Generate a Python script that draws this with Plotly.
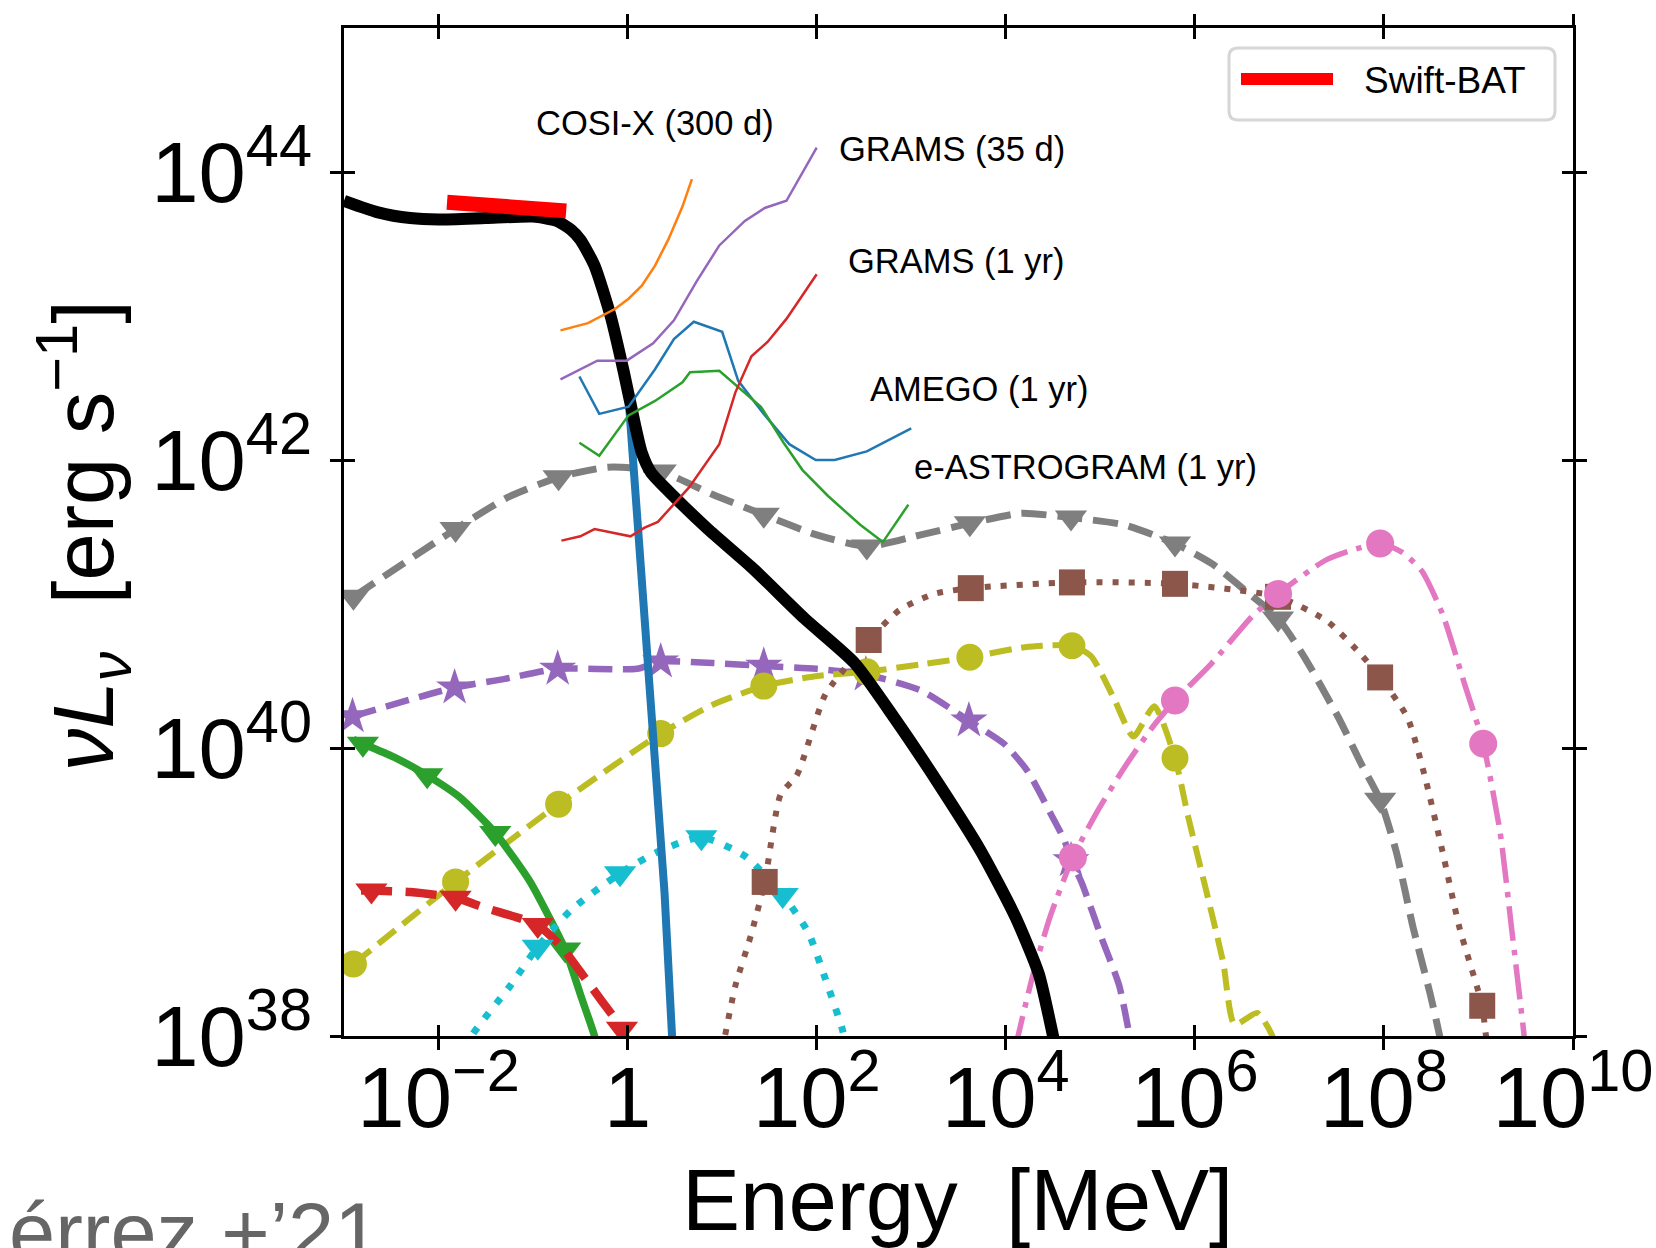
import numpy as np
import plotly.graph_objects as go

# ---------------------------------------------------------------------------
# Spectral energy distributions: log10(E / MeV) and log10(nu L_nu / erg s^-1)
# ---------------------------------------------------------------------------

# total emission (thick black)
total_logE = [-3.0, -2.64, -2.3, -2.0, -1.5, -1.0, -0.75, -0.6, -0.5, -0.35, -0.18,
              -0.04, 0.08, 0.15, 0.25, 0.5, 0.85, 1.32, 1.87, 2.4, 2.82, 3.31, 3.74,
              4.1, 4.35, 4.5, 4.6]
total_logL = [43.80, 43.72, 43.68, 43.67, 43.68, 43.69, 43.66, 43.6, 43.53, 43.35, 43.0,
              42.61, 42.24, 42.05, 41.91, 41.74, 41.52, 41.25, 40.9, 40.59, 40.21, 39.73,
              39.28, 38.83, 38.43, 38.0, 37.7]

# thermal cutoff component (thick blue)
thermal_logE = [0.0, 0.05, 0.17, 0.29, 0.39, 0.47, 0.52]
thermal_logL = [42.52, 42.08, 41.0, 40.0, 39.0, 38.0, 37.5]

# Swift-BAT band
bat_logE = [-1.91, -0.65]
bat_logL = [43.79, 43.73]

# instrument sensitivity curves
cosi_logE = [-0.71, -0.42, -0.13, 0.01, 0.15, 0.29, 0.43, 0.58, 0.68]
cosi_logL = [42.90, 42.95, 43.05, 43.12, 43.21, 43.35, 43.53, 43.76, 43.95]

grams35_logE = [-0.71, -0.32, -0.01, 0.27, 0.49, 0.73, 0.97, 1.24, 1.45, 1.68, 2.0]
grams35_logL = [42.56, 42.69, 42.69, 42.81, 42.97, 43.24, 43.49, 43.66, 43.75, 43.80, 44.17]

grams1y_logE = [-0.70, -0.5, -0.35, -0.27, 0.03, 0.18, 0.32, 0.65, 0.97, 1.14, 1.31,
                1.48, 1.68, 2.0]
grams1y_logL = [41.44, 41.47, 41.52, 41.51, 41.47, 41.53, 41.57, 41.81, 42.11, 42.47,
                42.72, 42.82, 42.98, 43.29]

amego_logE = [-0.51, -0.30, 0.01, 0.29, 0.49, 0.70, 1.0, 1.17, 1.44, 1.71, 1.99, 2.19,
              2.53, 3.0]
amego_logL = [42.58, 42.32, 42.37, 42.63, 42.84, 42.96, 42.89, 42.55, 42.32, 42.11,
              42.0, 42.0, 42.06, 42.22]

eastro_logE = [-0.51, -0.30, 0.01, 0.29, 0.58, 0.66, 0.97, 1.24, 1.41, 1.65, 1.85, 2.12,
               2.46, 2.70, 2.97]
eastro_logL = [42.12, 42.03, 42.31, 42.41, 42.54, 42.61, 42.62, 42.47, 42.37, 42.12,
               41.93, 41.75, 41.55, 41.43, 41.69]

# model components (mark = 1 where a marker is drawn)
gray_logE = [-2.90, -1.82, -1.27, -0.73, -0.2, 0.35, 0.9, 1.44, 2.0, 2.53, 3.1, 3.62,
             4.16, 4.69, 5.25, 5.79, 6.18, 6.54, 6.88, 7.15, 7.52, 7.76, 7.96, 8.13,
             8.31, 8.49, 8.59, 8.65]
gray_logL = [41.05, 41.52, 41.74, 41.88, 41.95, 41.92, 41.76, 41.62, 41.48, 41.40,
             41.48, 41.56, 41.63, 41.60, 41.55, 41.42, 41.28, 41.09, 40.90, 40.64,
             40.21, 39.89, 39.64, 39.28, 38.75, 38.29, 38.0, 37.8]
gray_mark = [1, 1, 0, 1, 0, 1, 0, 1, 0, 1, 0, 1, 0, 1, 0, 1, 0, 0, 1, 0, 0, 0, 1, 0,
             0, 0, 0, 0]

purple_logE = [-2.91, -1.83, -1.30, -0.74, 0.1, 0.35, 0.9, 1.44, 2.0, 2.52, 3.1, 3.61,
               3.98, 4.23, 4.47, 4.62, 4.69, 4.80, 5.02, 5.20, 5.31, 5.36]
purple_logL = [40.22, 40.42, 40.48, 40.55, 40.55, 40.60, 40.59, 40.57, 40.55, 40.51,
               40.40, 40.19, 40.03, 39.84, 39.55, 39.36, 39.22, 39.07, 38.67, 38.35,
               38.0, 37.8]
purple_mark = [1, 1, 0, 1, 0, 1, 0, 1, 0, 1, 0, 1, 0, 0, 0, 0, 1, 0, 0, 0, 0, 0]

olive_logE = [-2.90, -1.82, -0.73, 0.35, 0.9, 1.44, 2.0, 2.53, 3.1, 3.62, 4.2, 4.70,
              4.90, 5.14, 5.35, 5.57, 5.79, 5.93, 6.12, 6.30, 6.42, 6.66, 6.82, 6.87]
olive_logL = [38.50, 39.07, 39.61, 40.10, 40.30, 40.43, 40.50, 40.53, 40.58, 40.63,
              40.70, 40.71, 40.64, 40.35, 40.08, 40.29, 39.93, 39.52, 39.01, 38.51,
              38.08, 38.16, 38.0, 37.85]
olive_mark = [1, 1, 1, 1, 0, 1, 0, 1, 0, 1, 0, 1, 0, 0, 0, 0, 1, 0, 0, 0, 0, 0, 0, 0]

green_logE = [-2.9, -2.80, -2.45, -2.12, -1.78, -1.40, -1.03, -0.81, -0.66, -0.49,
              -0.35, -0.3]
green_logL = [40.06, 40.03, 39.93, 39.81, 39.66, 39.41, 39.07, 38.80, 38.60, 38.27,
              38.0, 37.85]
green_mark = [0, 1, 0, 1, 0, 1, 0, 0, 1, 0, 0, 0]

red_logE = [-2.82, -2.71, -2.3, -1.82, -1.51, -1.2, -0.95, -0.70, -0.45, -0.27, -0.06, 0.0]
red_logL = [39.01, 39.01, 39.0, 38.96, 38.89, 38.83, 38.77, 38.62, 38.40, 38.24, 38.05,
            37.95]
red_mark = [0, 1, 0, 1, 0, 0, 1, 0, 0, 0, 1, 0]

cyan_logE = [-1.70, -1.65, -1.24, -0.95, -0.59, -0.08, 0.32, 0.78, 1.24, 1.64, 1.91,
             2.09, 2.27, 2.3]
cyan_logL = [37.9, 38.0, 38.35, 38.62, 38.88, 39.13, 39.28, 39.38, 39.25, 38.98, 38.72,
             38.40, 38.05, 37.95]
cyan_mark = [0, 0, 0, 1, 0, 1, 0, 1, 0, 1, 0, 0, 0, 0]

brown_logE = [1.0, 1.03, 1.14, 1.30, 1.45, 1.62, 1.79, 2.09, 2.37, 2.55, 2.88, 3.24, 3.63,
              4.70, 5.79, 6.88, 7.40, 7.77, 7.96, 8.25, 8.43, 8.62, 8.80, 9.04, 9.07, 9.1]
brown_logL = [37.9, 38.0, 38.35, 38.69, 39.07, 39.68, 39.81, 40.37, 40.61, 40.75, 40.96,
              41.07, 41.11, 41.15, 41.14, 41.05, 40.88, 40.64, 40.49, 40.21, 39.81,
              39.28, 38.75, 38.21, 38.05, 37.9]
brown_mark = [0, 0, 0, 0, 1, 0, 0, 0, 0, 1, 0, 0, 1, 1, 1, 1, 0, 0, 1, 0, 0, 0, 0, 1, 0, 0]

pink_logE = [4.10, 4.13, 4.29, 4.47, 4.71, 4.96, 5.26, 5.57, 5.79, 6.18, 6.60, 6.88,
             7.40, 7.96, 8.19, 8.40, 8.62, 8.86, 9.05, 9.23, 9.35, 9.47, 9.5]
pink_logL = [37.9, 38.0, 38.43, 38.83, 39.24, 39.55, 39.87, 40.16, 40.33, 40.59, 40.91,
             41.07, 41.31, 41.42, 41.36, 41.23, 40.93, 40.43, 40.03, 39.41, 38.75,
             38.08, 37.9]
pink_mark = [0, 0, 0, 0, 1, 0, 0, 0, 1, 0, 0, 1, 0, 1, 0, 0, 0, 0, 1, 0, 0, 0, 0]

# instrument labels: (text, log10 E, log10 nuL_nu)
label_text = ["COSI-X (300 d)", "GRAMS (35 d)", "GRAMS (1 yr)", "AMEGO (1 yr)",
              "e-ASTROGRAM (1 yr)"]
label_logE = [-0.99, 2.21, 2.31, 2.54, 3.01]
label_logL = [44.34, 44.16, 43.38, 42.49, 41.95]

# axis ticks
x_tick_exp = [-2, 0, 2, 4, 6, 8, 10]
x_tick_text = ["10<sup>−2</sup>", "1", "10<sup>2</sup>", "10<sup>4</sup>",
               "10<sup>6</sup>", "10<sup>8</sup>", "10<sup>10</sup>"]
y_tick_exp = [38, 40, 42, 44]
y_tick_text = ["10<sup>38</sup>", "10<sup>40</sup>", "10<sup>42</sup>", "10<sup>44</sup>"]

# ---------------------------------------------------------------------------
W, H = 1656, 1248
PL, PR, PT, PB = 344, 1573, 28, 1036  # plot-area edges in pixels

def px_x(px):
    return (px - PL) / (PR - PL)

def px_y(py):
    return (PB - py) / (PB - PT)

def lin(v):
    return list(10.0 ** np.asarray(v, dtype=float))

TEXT_FONT = "Liberation Sans, Arial, sans-serif"
TICK_FONT = "Liberation Sans, Arial, sans-serif"

fig = go.Figure()


def model(logE, logL, mark, color, width, dash, symbol, msize):
    sizes = [msize if m else 0 for m in mark]
    fig.add_trace(go.Scatter(
        x=lin(logE), y=lin(logL), mode="lines+markers",
        line=dict(color=color, width=width, dash=dash, shape="spline", smoothing=0.6),
        marker=dict(symbol=symbol, size=sizes, color=color, opacity=1,
                    line=dict(width=0)),
        showlegend=False, hoverinfo="skip"))


def curve(logE, logL, color, width, shape="linear"):
    fig.add_trace(go.Scatter(
        x=lin(logE), y=lin(logL), mode="lines",
        line=dict(color=color, width=width, shape=shape, smoothing=0.6),
        showlegend=False, hoverinfo="skip"))


# model components
model(gray_logE, gray_logL, gray_mark, "#7f7f7f", 7, "25px,11px", "triangle-down", 28)
model(purple_logE, purple_logL, purple_mark, "#9467bd", 6.5, "24px,10.5px", "star", 28)
model(olive_logE, olive_logL, olive_mark, "#bcbd22", 6, "22px,9.6px", "circle", 27)
model(green_logE, green_logL, green_mark, "#2ca02c", 7.5, "solid", "triangle-down", 28)
model(red_logE, red_logL, red_mark, "#d62728", 8.5, "31px,13.5px", "triangle-down", 28)
model(cyan_logE, cyan_logL, cyan_mark, "#17becf", 7, "7px,11.5px", "triangle-down", 28)
model(brown_logE, brown_logL, brown_mark, "#8c564b", 6, "6px,10px", "square", 26)
model(pink_logE, pink_logL, pink_mark, "#e377c2", 5.5, "35px,9px,5.5px,9px", "circle", 28)

# thermal component and total
curve(thermal_logE, thermal_logL, "#1f77b4", 8)
curve(total_logE, total_logL, "black", 12, shape="spline")
curve(bat_logE, bat_logL, "#ff0000", 15)

# sensitivities
curve(cosi_logE, cosi_logL, "#ff7f0e", 2.5)
curve(grams35_logE, grams35_logL, "#9467bd", 2.5)
curve(amego_logE, amego_logL, "#1f77b4", 2.5)
curve(eastro_logE, eastro_logL, "#2ca02c", 2.5)
curve(grams1y_logE, grams1y_logL, "#d62728", 2.5)

# empty trace for the overlay axes carrying the inward tick halves
fig.add_trace(go.Scatter(x=[], y=[], xaxis="x2", yaxis="y2", showlegend=False,
                         hoverinfo="skip"))

annotations = []
for t, lx, ly in zip(label_text, label_logE, label_logL):
    annotations.append(dict(text=t, x=lx, y=ly, xref="x", yref="y", xanchor="left",
                            yanchor="middle", showarrow=False,
                            font=dict(family=TEXT_FONT, size=34.5, color="black")))

annotations += [
    dict(text="<i>νL<sub>ν</sub></i>\u00a0\u00a0[erg s<sup>−1</sup>]", x=px_x(83), y=px_y(536),
         xref="paper", yref="paper", textangle=-90, xanchor="center", yanchor="middle",
         showarrow=False, font=dict(family=TEXT_FONT, size=85, color="black")),
    dict(text="Energy\u00a0\u00a0[MeV]", x=px_x(957), y=px_y(1199), xref="paper", yref="paper",
         xanchor="center", yanchor="middle", showarrow=False,
         font=dict(family=TEXT_FONT, size=87, color="black")),
    dict(text="érrez +’21", x=px_x(7), y=px_y(1232), xref="paper", yref="paper",
         xanchor="left", yanchor="middle", showarrow=False,
         font=dict(family=TEXT_FONT, size=83, color="#666666")),
    dict(text="Swift-BAT", x=px_x(1362), y=px_y(80), xref="paper", yref="paper",
         xanchor="left", yanchor="middle", showarrow=False,
         font=dict(family=TEXT_FONT, size=37, color="black")),
]

# legend frame and sample line
x0, x1 = px_x(1229), px_x(1555)
y0, y1 = px_y(120), px_y(48)
rx, ry = 9 / (PR - PL), 9 / (PB - PT)
frame = (f"M {x0+rx},{y1} L {x1-rx},{y1} Q {x1},{y1} {x1},{y1-ry} L {x1},{y0+ry} "
         f"Q {x1},{y0} {x1-rx},{y0} L {x0+rx},{y0} Q {x0},{y0} {x0},{y0+ry} "
         f"L {x0},{y1-ry} Q {x0},{y1} {x0+rx},{y1} Z")
shapes = [
    dict(type="path", path=frame, xref="paper", yref="paper", layer="above",
         fillcolor="white", line=dict(color="#d6d6d6", width=3)),
    dict(type="line", x0=px_x(1241), x1=px_x(1333), y0=px_y(79), y1=px_y(79),
         xref="paper", yref="paper", layer="above", line=dict(color="#ff0000", width=12)),
]

axis_common = dict(showgrid=False, zeroline=False, showline=True, linecolor="black",
                   linewidth=3, mirror="allticks", tickcolor="black", tickwidth=2.5,
                   ticklen=11, automargin=False)

fig.update_layout(
    width=W, height=H,
    margin=dict(l=PL, r=W - PR, t=PT, b=H - PB, pad=0, autoexpand=False),
    paper_bgcolor="white", plot_bgcolor="white",
    showlegend=False,
    xaxis=dict(type="log", range=[-3, 10], ticks="outside",
               tickvals=lin(x_tick_exp), ticktext=x_tick_text,
               tickfont=dict(family=TICK_FONT, size=85, color="black"),
               ticklabelstandoff=-25, ticklabeloverflow="allow", **axis_common),
    yaxis=dict(type="log", range=[38, 45], ticks="outside",
               tickvals=lin(y_tick_exp), ticktext=y_tick_text,
               tickfont=dict(family=TICK_FONT, size=85, color="black"),
               ticklabelstandoff=1, ticklabeloverflow="allow", **axis_common),
    xaxis2=dict(type="log", range=[-3, 10], ticks="inside", overlaying="x", anchor="y2",
                tickvals=lin(x_tick_exp), showticklabels=False, **axis_common),
    yaxis2=dict(type="log", range=[38, 45], ticks="inside", overlaying="y", anchor="x2",
                tickvals=lin(y_tick_exp), showticklabels=False, **axis_common),
    annotations=annotations,
    shapes=shapes,
)

fig.write_html("out.html")
